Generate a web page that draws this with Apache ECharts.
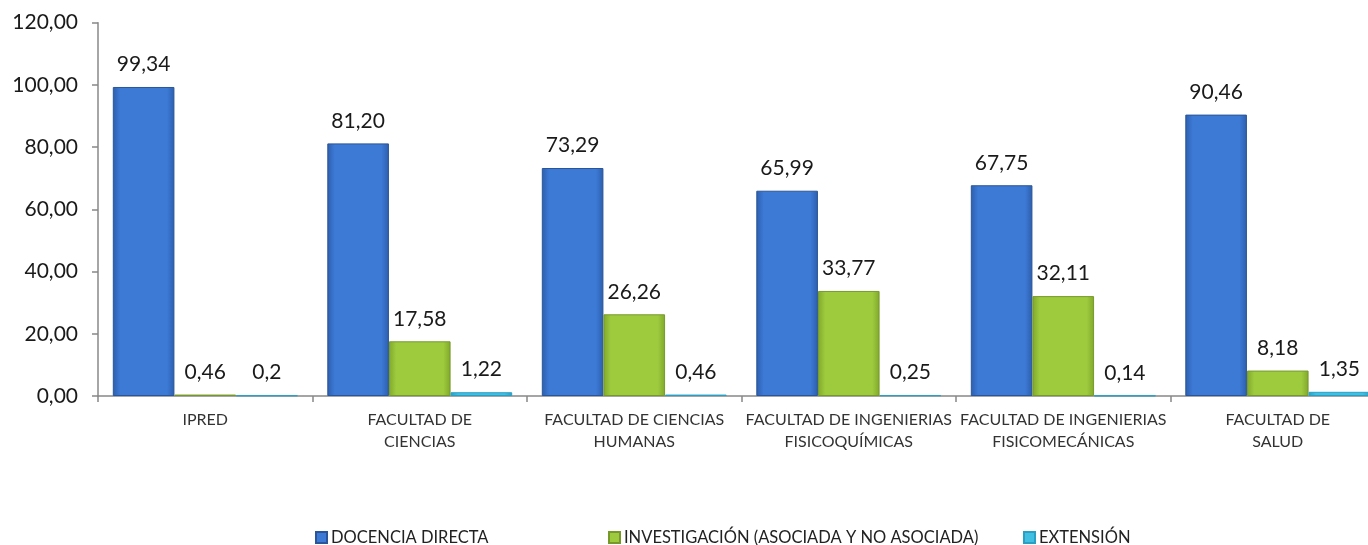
<!DOCTYPE html>
<html>
<head>
<meta charset="utf-8">
<script src="https://cdn.jsdelivr.net/npm/echarts@6/dist/echarts.min.js"></script>
<style>html,body{margin:0;padding:0;background:#fff;}#c{width:1368px;height:545px;}</style>
</head>
<body>
<div id="c"></div>
<script>
var categories = ['IPRED', 'FACULTAD DE\nCIENCIAS', 'FACULTAD DE CIENCIAS\nHUMANAS', 'FACULTAD DE INGENIERIAS\nFISICOQUÍMICAS', 'FACULTAD DE INGENIERIAS\nFISICOMECÁNICAS', 'FACULTAD DE\nSALUD'];
var seriesNames = ['DOCENCIA DIRECTA', 'INVESTIGACIÓN (ASOCIADA Y NO ASOCIADA)', 'EXTENSIÓN'];
var docencia = [99.34, 81.20, 73.29, 65.99, 67.75, 90.46];
var investigacion = [0.46, 17.58, 26.26, 33.77, 32.11, 8.18];
var extension = [0.2, 1.22, 0.46, 0.25, 0.14, 1.35];
var yTicks = {min: 0, max: 120, interval: 20};

function hgrad(edge, mid) {
  return new echarts.graphic.LinearGradient(0, 0, 1, 0, [
    {offset: 0, color: edge}, {offset: 0.12, color: mid}, {offset: 0.88, color: mid}, {offset: 1, color: edge}
  ]);
}
var blueFill = hgrad('#2d5eac', '#3c7ad6');
var greenFill = hgrad('#80a82b', '#9ecb3e');
var cyanFill = hgrad('#2a9fc4', '#40bfe2');

var fmt2 = function (p) { return p.value.toFixed(2).replace('.', ','); };
var fmtRaw = function (p) { return String(p.value).replace('.', ','); };
var labelBase = {show: true, position: 'top', distance: 12, fontFamily: 'Lato', fontSize: 21, color: '#1a1a1a'};

var chart = echarts.init(document.getElementById('c'));
function leg(name, left) {
  return {data: [name], left: left, top: 524, itemWidth: 11, itemHeight: 11, itemGap: 0, icon: 'rect',
    textStyle: {fontFamily: 'Lato', fontSize: 16.5, color: '#222', padding: [0, 0, 0, -1]}, selectedMode: false};
}
chart.setOption({
  animation: false,
  backgroundColor: '#fff',
  legend: [leg(seriesNames[0], 310), leg(seriesNames[1], 603), leg(seriesNames[2], 1018)],
  grid: {left: 98, top: 22.7, right: -17, bottom: 149, containLabel: false, outerBoundsMode: 'none'},
  xAxis: {
    type: 'category', data: categories,
    axisLine: {lineStyle: {color: '#888', width: 1.5}},
    axisTick: {show: true, length: 6, lineStyle: {color: '#888', width: 1.5}},
    axisLabel: {fontFamily: 'Lato', fontSize: 16, color: '#333', margin: 13, lineHeight: 22, interval: 0}
  },
  yAxis: {
    type: 'value', min: yTicks.min, max: yTicks.max, interval: yTicks.interval,
    splitLine: {show: false},
    axisLine: {show: true, lineStyle: {color: '#888', width: 1.5}},
    axisTick: {show: true, length: 6, lineStyle: {color: '#888', width: 1.5}},
    axisLabel: {fontFamily: 'Lato', fontSize: 21, color: '#1a1a1a', margin: 20,
      formatter: function (v) { return v.toFixed(2).replace('.', ','); }}
  },
  series: [
    {name: seriesNames[0], type: 'bar', data: docencia, barGap: '0%', barCategoryGap: '13.8%',
      itemStyle: {color: blueFill, borderColor: '#2a5598', borderWidth: 1},
      label: Object.assign({}, labelBase, {formatter: fmt2})},
    {name: seriesNames[1], type: 'bar', data: investigacion,
      itemStyle: {color: greenFill, borderColor: '#76992a', borderWidth: 1},
      label: Object.assign({}, labelBase, {formatter: fmt2})},
    {name: seriesNames[2], type: 'bar', data: extension,
      itemStyle: {color: cyanFill, borderColor: '#2a9fc4', borderWidth: 1},
      label: Object.assign({}, labelBase, {formatter: fmtRaw})}
  ]
});
</script>
</body>
</html>
